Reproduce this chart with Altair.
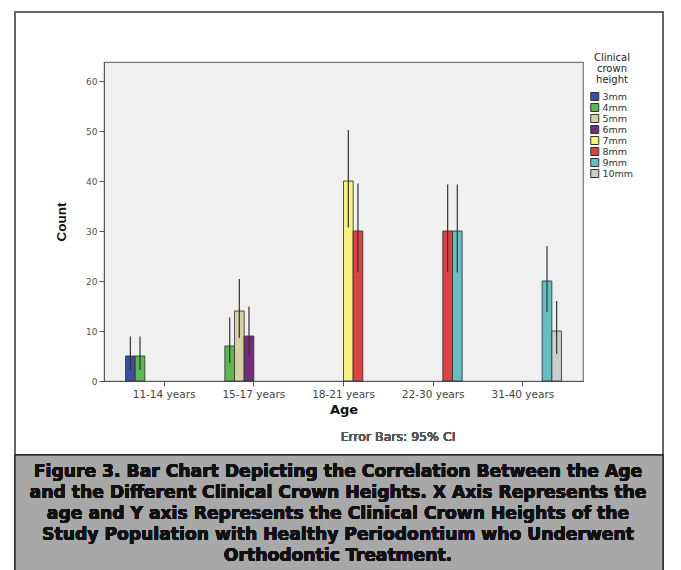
import altair as alt
import pandas as pd

ages = ["11-14 years", "11-14 years", "15-17 years", "15-17 years", "15-17 years",
        "18-21 years", "18-21 years", "22-30 years", "22-30 years", "31-40 years", "31-40 years"]
heights = ["3mm", "4mm", "4mm", "5mm", "6mm", "7mm", "8mm", "8mm", "9mm", "9mm", "10mm"]
counts = [5, 5, 7, 14, 9, 40, 30, 30, 30, 20, 10]
ci_low = [2.2, 2.2, 3.6, 8.6, 5.2, 30.7, 21.7, 21.7, 21.7, 13.8, 5.4]
ci_high = [8.9, 8.9, 12.7, 20.4, 14.9, 50.2, 39.5, 39.3, 39.3, 27.0, 16.0]

age_order = ["11-14 years", "15-17 years", "18-21 years", "22-30 years", "31-40 years"]
height_order = ["3mm", "4mm", "5mm", "6mm", "7mm", "8mm", "9mm", "10mm"]
height_colors = ["#3B4FA6", "#5CB94E", "#D6D09E", "#762B7E", "#F6F27E", "#E0423F", "#62C0C3", "#CDCDCD"]

caption_lines = [
    "Figure 3. Bar Chart Depicting the Correlation Between the Age",
    "and the Different Clinical Crown Heights. X Axis Represents the",
    "age and Y axis Represents the Clinical Crown Heights of the",
    "Study Population with Healthy Periodontium who Underwent",
    "Orthodontic Treatment.",
]

df = pd.DataFrame({"Age": ages, "Height": heights, "Count": counts,
                   "lo": ci_low, "hi": ci_high})

W, H = 479, 319
PL, PT = 104, 62

x_enc = alt.X("Age:N", sort=age_order,
              scale=alt.Scale(domain=age_order, paddingInner=0.14, paddingOuter=0.24),
              axis=alt.Axis(title="Age", labelAngle=0, labelFont="DejaVu Sans",
                            labelFontSize=10.5, labelColor="#444", tickColor="#555",
                            tickSize=5, domainColor="#555", titleFont="DejaVu Sans",
                            titleFontSize=13, titleFontWeight="bold", titleColor="#111",
                            titlePadding=4, labelPadding=3))
xoff = alt.XOffset("Height:N", sort=height_order,
                   scale=alt.Scale(domain=height_order, paddingInner=0, paddingOuter=0))

y_scale = alt.Scale(domain=[0, 63.8], nice=False)

bars = alt.Chart(df).mark_bar(stroke="#333", strokeWidth=1, strokeOpacity=0.85).encode(
    x=x_enc,
    xOffset=xoff,
    y=alt.Y("Count:Q", scale=y_scale,
            axis=alt.Axis(values=[0, 10, 20, 30, 40, 50, 60], grid=False,
                          labelFont="DejaVu Sans", labelFontSize=9, labelColor="#555",
                          tickColor="#555", tickSize=5, domainColor="#555",
                          title="Count", titleFont="Liberation Sans Narrow, Liberation Sans",
                          titleFontSize=13.5, titleFontWeight="bold", titleColor="#111",
                          titlePadding=17)),
    color=alt.Color("Height:N", sort=height_order,
                    scale=alt.Scale(domain=height_order, range=height_colors),
                    legend=alt.Legend(title=["Clinical", "crown", "height"],
                                      orient="none", legendX=486, legendY=-9,
                                      titleFont="DejaVu Sans", titleFontSize=10,
                                      titleFontWeight="normal", titleColor="#222",
                                      titleAlign="center", titleAnchor="middle",
                                      titleLineHeight=11, titlePadding=6,
                                      labelFont="DejaVu Sans", labelFontSize=9.5,
                                      labelColor="#333", symbolType="square",
                                      symbolSize=64, symbolStrokeColor="#333",
                                      symbolStrokeWidth=1, rowPadding=0,
                                      clipHeight=11,
                                      labelOffset=3, labelLimit=60)),
)

errs = alt.Chart(df).mark_rule(color="#333", strokeWidth=1.2).encode(
    x=x_enc, xOffset=xoff, y=alt.Y("lo:Q", scale=y_scale), y2="hi:Q"
)

frame = alt.Chart(df).mark_rect(fillOpacity=0, stroke="#666", strokeWidth=1.5).encode(
    x=alt.value(15 - PL), x2=alt.value(663 - PL),
    y=alt.value(12 - PT), y2=alt.value(575 - PT)
)

caption_box = alt.Chart(df).mark_rect(fill="#A8A8A8", stroke="#333", strokeWidth=1.5).encode(
    x=alt.value(15 - PL), x2=alt.value(663 - PL),
    y=alt.value(455 - PT), y2=alt.value(575 - PT)
)

caption = alt.Chart(df).mark_text(
    text=caption_lines, font="DejaVu Sans", fontWeight="bold", fontSize=17.2,
    color="#111", align="center", baseline="middle", lineHeight=21
).encode(x=alt.value(338 - PL), y=alt.value(472 - PT))

err_note = alt.Chart(df).mark_text(
    text="Error Bars: 95% CI", font="DejaVu Sans", fontSize=12.5, color="#555",
    fontWeight="normal", align="center", baseline="middle"
).encode(x=alt.value(398 - PL), y=alt.value(437 - PT))

chart = alt.layer(frame, caption_box, caption, err_note, bars, errs).properties(
    width=W, height=H,
    padding={"left": PL, "top": PT, "right": 681 - PL - W, "bottom": 570 - PT - H},
    autosize=alt.AutoSizeParams(type="none"),
    background="white",
).configure_view(fill="#F0F0F0", stroke="#777", strokeWidth=1.2)

chart.save("out.html", embed_options={"renderer": "svg", "actions": False})
